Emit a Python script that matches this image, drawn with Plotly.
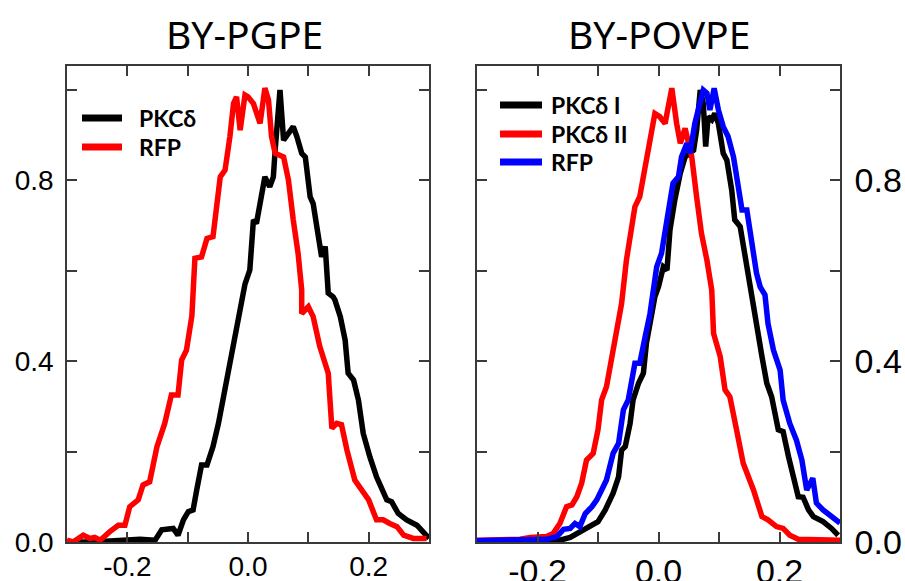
import plotly.graph_objects as go

W, H = 905, 581

# ---------------- data ----------------
titles = ["BY-PGPE", "BY-POVPE"]
left_names = ["PKCδ", "RFP"]
right_names = ["PKCδ I", "PKCδ II", "RFP"]

# Left panel, PKCδ (black)
l_pkc_x = [-0.300, -0.257, -0.179, -0.154, -0.143, -0.132, -0.124, -0.116, -0.107, -0.099, -0.091,
           -0.085, -0.077, -0.068, -0.058, -0.049, -0.041, -0.033, -0.024, -0.019, -0.010, -0.005,
           0.003, 0.009, 0.014, 0.023, 0.028, 0.036, 0.042, 0.045, 0.048, 0.053, 0.059, 0.067,
           0.075, 0.081, 0.089, 0.095, 0.103, 0.108, 0.117, 0.122, 0.128, 0.133, 0.141, 0.144,
           0.153, 0.161, 0.166, 0.175, 0.183, 0.191, 0.202, 0.213, 0.230, 0.238, 0.249, 0.263,
           0.280, 0.294, 0.300]
l_pkc_y = [0.000, 0.000, 0.006, 0.004, 0.027, 0.028, 0.030, 0.015, 0.049, 0.067, 0.071,
           0.115, 0.170, 0.170, 0.211, 0.262, 0.321, 0.380, 0.443, 0.476, 0.535, 0.570,
           0.601, 0.712, 0.704, 0.778, 0.807, 0.785, 0.807, 0.866, 0.925, 0.999, 0.888, 0.903,
           0.918, 0.896, 0.859, 0.851, 0.763, 0.748, 0.667, 0.630, 0.653, 0.550, 0.542, 0.535,
           0.498, 0.446, 0.373, 0.358, 0.314, 0.240, 0.188, 0.144, 0.093, 0.089, 0.063, 0.049,
           0.037, 0.019, 0.008]

# Left panel, RFP (red)
l_rfp_x = [-0.300, -0.290, -0.273, -0.262, -0.254, -0.245, -0.229, -0.215, -0.204, -0.196, -0.182,
           -0.174, -0.163, -0.151, -0.138, -0.127, -0.116, -0.110, -0.102, -0.093, -0.088, -0.077,
           -0.068, -0.058, -0.046, -0.038, -0.030, -0.024, -0.019, -0.013, -0.005, 0.000, 0.009,
           0.020, 0.028, 0.034, 0.039, 0.045, 0.059, 0.067, 0.075, 0.083, 0.089, 0.089, 0.100,
           0.108, 0.119, 0.133, 0.139, 0.147, 0.155, 0.164, 0.177, 0.191, 0.200, 0.213, 0.224,
           0.235, 0.247, 0.258, 0.274, 0.285, 0.296]
l_rfp_y = [0.004, 0.000, 0.015, 0.008, 0.010, 0.004, 0.023, 0.037, 0.037, 0.078, 0.093,
           0.126, 0.133, 0.210, 0.262, 0.325, 0.325, 0.402, 0.424, 0.500, 0.627, 0.630,
           0.671, 0.675, 0.807, 0.822, 0.896, 0.969, 0.984, 0.910, 0.988, 0.984, 0.969,
           0.925, 1.003, 0.977, 0.896, 0.859, 0.851, 0.800, 0.712, 0.638, 0.557, 0.505, 0.520,
           0.498, 0.432, 0.373, 0.251, 0.262, 0.259, 0.203, 0.137, 0.108, 0.093, 0.049, 0.049,
           0.041, 0.034, 0.015, 0.008, 0.008, 0.008]

# Right panel, PKCδ I (black)
r_pkc1_x = [-0.300, -0.174, -0.146, -0.124, -0.108, -0.100, -0.088, -0.075, -0.066, -0.061, -0.055,
            -0.047, -0.042, -0.033, -0.025, -0.020, -0.011, -0.006, 0.000, 0.008, 0.014, 0.019,
            0.027, 0.036, 0.044, 0.052, 0.058, 0.063, 0.069, 0.074, 0.078, 0.082, 0.088, 0.093,
            0.099, 0.107, 0.113, 0.121, 0.126, 0.135, 0.143, 0.151, 0.157, 0.162, 0.171, 0.179,
            0.187, 0.198, 0.206, 0.215, 0.223, 0.231, 0.239, 0.248, 0.256, 0.272, 0.286, 0.297]
r_pkc1_y = [0.000, 0.000, 0.010, 0.027, 0.041, 0.045, 0.071, 0.108, 0.144, 0.203, 0.211,
            0.262, 0.314, 0.351, 0.373, 0.439, 0.505, 0.542, 0.564, 0.608, 0.601, 0.690,
            0.756, 0.815, 0.851, 0.859, 0.866, 0.910, 0.999, 0.969, 0.874, 0.940, 0.933, 0.947,
            0.925, 0.859, 0.844, 0.778, 0.712, 0.697, 0.630, 0.579, 0.520, 0.469, 0.410, 0.351,
            0.321, 0.248, 0.244, 0.188, 0.144, 0.100, 0.099, 0.071, 0.056, 0.045, 0.030, 0.015]

# Right panel, PKCδ II (red)
r_pkc2_x = [-0.300, -0.229, -0.212, -0.185, -0.174, -0.163, -0.152, -0.143, -0.135, -0.127, -0.119,
            -0.108, -0.100, -0.094, -0.086, -0.077, -0.069, -0.061, -0.053, -0.044, -0.039, -0.031,
            -0.022, -0.014, -0.006, 0.002, 0.011, 0.014, 0.022, 0.030, 0.036, 0.044, 0.049, 0.055,
            0.063, 0.071, 0.080, 0.088, 0.091, 0.102, 0.110, 0.118, 0.129, 0.140, 0.157, 0.171,
            0.181, 0.195, 0.206, 0.217, 0.231, 0.261, 0.300]
r_pkc2_y = [0.004, 0.006, 0.010, 0.012, 0.019, 0.041, 0.078, 0.082, 0.100, 0.130, 0.181,
            0.196, 0.248, 0.314, 0.343, 0.410, 0.461, 0.527, 0.623, 0.690, 0.741, 0.763,
            0.829, 0.874, 0.947, 0.940, 0.925, 0.947, 1.003, 0.925, 0.881, 0.914, 0.888, 0.851,
            0.763, 0.682, 0.623, 0.557, 0.461, 0.410, 0.336, 0.321, 0.248, 0.174, 0.115, 0.056,
            0.049, 0.034, 0.030, 0.015, 0.006, 0.006, 0.004]

# Right panel, RFP (blue)
r_rfp_x = [-0.300, -0.257, -0.185, -0.168, -0.157, -0.146, -0.138, -0.130, -0.121, -0.110, -0.102,
           -0.094, -0.086, -0.075, -0.066, -0.058, -0.050, -0.039, -0.031, -0.022, -0.014, -0.003,
           0.005, 0.014, 0.024, 0.033, 0.038, 0.047, 0.052, 0.060, 0.069, 0.074, 0.080, 0.085,
           0.092, 0.099, 0.107, 0.115, 0.124, 0.132, 0.138, 0.146, 0.154, 0.162, 0.168, 0.171,
           0.176, 0.181, 0.190, 0.201, 0.206, 0.217, 0.228, 0.237, 0.245, 0.255, 0.261, 0.272,
           0.286, 0.300]
r_rfp_y = [0.003, 0.004, 0.006, 0.012, 0.028, 0.030, 0.041, 0.034, 0.063, 0.078, 0.093,
           0.115, 0.137, 0.196, 0.218, 0.292, 0.314, 0.395, 0.395, 0.454, 0.505, 0.608,
           0.638, 0.712, 0.793, 0.807, 0.851, 0.881, 0.859, 0.925, 0.977, 0.999, 0.992, 0.955,
           1.003, 0.955, 0.918, 0.896, 0.851, 0.793, 0.734, 0.734, 0.667, 0.594, 0.564, 0.557,
           0.546, 0.483, 0.424, 0.380, 0.314, 0.262, 0.225, 0.181, 0.115, 0.141, 0.086, 0.071,
           0.056, 0.042]

x_tickvals = [-0.2, -0.1, 0.0, 0.1, 0.2]
x_ticktext = ["-0.2", "", "0.0", "", "0.2"]
y_tickvals = [0.0, 0.2, 0.4, 0.6, 0.8, 1.0]
y_ticktext = ["0.0", "", "0.4", "", "0.8", ""]

BLACK, RED, BLUE = "#000000", "#ff0000", "#0000ff"
LW = 5.5

fig = go.Figure()
fig.add_trace(go.Scatter(x=l_pkc_x, y=l_pkc_y, mode="lines", line=dict(color=BLACK, width=LW),
                         xaxis="x", yaxis="y", cliponaxis=False))
fig.add_trace(go.Scatter(x=l_rfp_x, y=l_rfp_y, mode="lines", line=dict(color=RED, width=LW),
                         xaxis="x", yaxis="y", cliponaxis=False))
fig.add_trace(go.Scatter(x=r_pkc1_x, y=r_pkc1_y, mode="lines", line=dict(color=BLACK, width=LW),
                         xaxis="x2", yaxis="y2", cliponaxis=False))
fig.add_trace(go.Scatter(x=r_pkc2_x, y=r_pkc2_y, mode="lines", line=dict(color=RED, width=LW),
                         xaxis="x2", yaxis="y2", cliponaxis=False))
fig.add_trace(go.Scatter(x=r_rfp_x, y=r_rfp_y, mode="lines", line=dict(color=BLUE, width=LW),
                         xaxis="x2", yaxis="y2", cliponaxis=False))

def px(x):
    return x / W

def py(y):
    return 1 - y / H

AX = "#3a3a3a"
ydom = [py(542), py(66)]
common_x = dict(range=[-0.3, 0.3], showgrid=False, zeroline=False, showline=True, linecolor=AX,
                linewidth=1.5, mirror="ticks", ticks="inside", ticklen=10, tickwidth=1.5,
                tickcolor=AX, tickvals=x_tickvals, ticktext=x_ticktext,
                automargin=False)
common_y = dict(range=[0, 1.052], showgrid=False, zeroline=False, showline=True, linecolor=AX,
                linewidth=1.5, mirror="ticks", ticks="inside", ticklen=10, tickwidth=1.5,
                tickcolor=AX, tickvals=y_tickvals, ticktext=y_ticktext, domain=ydom,
                automargin=False)

fig.update_layout(
    width=W, height=H, margin=dict(l=0, r=0, t=0, b=0, autoexpand=False),
    paper_bgcolor="white", plot_bgcolor="white", showlegend=False,
    font=dict(family="Liberation Sans, Arial, sans-serif", color="black"),
    xaxis=dict(common_x, domain=[px(67), px(429)], anchor="y",
               tickfont=dict(size=28), ticklabelstandoff=-1),
    yaxis=dict(common_y, anchor="x", side="left", tickfont=dict(size=28), ticklabelstandoff=6),
    xaxis2=dict(common_x, domain=[px(477), px(840)], anchor="y2",
                tickfont=dict(size=34), ticklabelstandoff=-2),
    yaxis2=dict(common_y, anchor="x2", side="right", tickfont=dict(size=34), ticklabelstandoff=6),
)

# titles
for t, cx in zip(titles, [245, 659]):
    fig.add_annotation(text=t, x=px(cx), y=py(33), xref="paper", yref="paper",
                       showarrow=False, xanchor="center", yanchor="middle",
                       font=dict(family="Noto Sans, sans-serif", size=39, color="black"))

# manual legends
def legend(names, colors, x0, x1, xt, ys):
    for n, c, yy in zip(names, colors, ys):
        fig.add_shape(type="line", xref="paper", yref="paper", x0=px(x0), x1=px(x1),
                      y0=py(yy), y1=py(yy), line=dict(color=c, width=7))
        fig.add_annotation(text="<b>%s</b>" % n, x=px(xt), y=py(yy), xref="paper", yref="paper",
                           showarrow=False, xanchor="left", yanchor="middle",
                           font=dict(family="Lato, sans-serif", size=23, color="black"))

legend(left_names, [BLACK, RED], 82, 122, 137, [118, 147])
legend(right_names, [BLACK, RED, BLUE], 500, 542, 549, [105, 134, 162])

fig.write_html("out.html", config={"displayModeBar": False},
               post_script="document.body.style.margin='0';document.body.style.overflow='hidden';")
